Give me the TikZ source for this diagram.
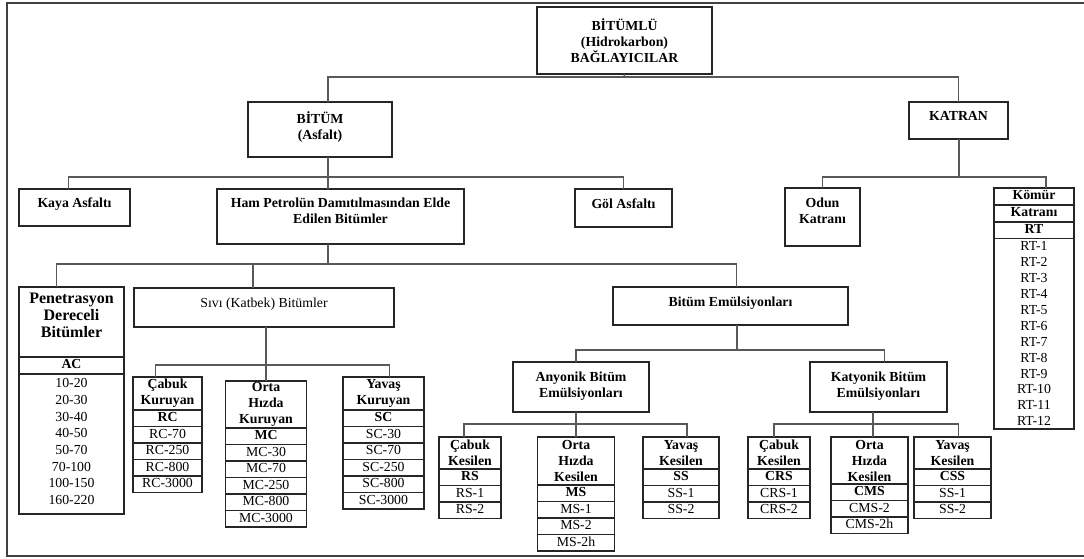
\documentclass[tikz,border=0pt]{standalone}
\usepackage{fontspec}
\setmainfont{Liberation Serif}
\usepackage{tikz}
\usetikzlibrary{positioning}

\newcommand{\txt}{\fontsize{13.8}{16}\selectfont}
\newcommand{\btxt}{\fontsize{13.8}{16}\selectfont\bfseries}

% grade table: name, top point, width, header height, header, code, grades
\newcommand{\gradetable}[7]{%
  \node[head, minimum width=#3, minimum height=#4] (#1) at #2 {#5};
  \node[row, font=\btxt, minimum width=#3, below=0pt of #1] (#1-0) {#6};
  \foreach \g [count=\i, remember=\i as \j (initially 0)] in {#7}
    \node[row, minimum width=#3, below=0pt of #1-\j] (#1-\i) {\g};
}

\begin{document}
\begin{tikzpicture}[x=1pt, y=-1pt,
    box/.style={draw=black!85, line width=1.1pt, inner sep=2pt, outer sep=0pt, align=center, font=\btxt},
    single/.style={box, text height=9pt, text depth=9pt},
    head/.style={box, anchor=north, inner ysep=0.5pt},
    row/.style={draw=black!85, line width=1.1pt, inner sep=0pt, outer sep=0pt, anchor=north,
      minimum height=16.5pt, text height=9.5pt, text depth=3pt, font=\txt},
    link/.style={draw=black!65, line width=1.4pt},
    frame/.style={draw=black!75, line width=1.6pt}]
    \useasboundingbox (0,0) rectangle (1084,559);
    \draw[frame] (1084,3) -- (7,3) -- (7,556) -- (1084,556);

    % Upper levels
    \node[box, minimum width=175pt, minimum height=67pt] (top) at (624.5,40.5) {BİTÜMLÜ\\(Hidrokarbon)\\BAĞLAYICILAR};
    \node[box, minimum width=144pt, minimum height=55pt, text depth=8pt] (bitum) at (320,129.5) {BİTÜM\\(Asfalt)};
    \node[single, minimum width=99pt, minimum height=37pt] (katran) at (958.5,120.5) {KATRAN};

    \node[single, minimum width=111pt, minimum height=37pt] (kaya) at (74.5,207.5) {Kaya Asfaltı};
    \node[box, minimum width=247pt, minimum height=55pt, text depth=12pt] (ham) at (340.5,216.5) {Ham Petrolün Damıtılmasından Elde\\Edilen Bitümler};
    \node[single, minimum width=97pt, minimum height=38pt] (gol) at (623.5,208) {Göl Asfaltı};
    \node[box, minimum width=75pt, minimum height=58pt, text depth=12pt] (odun) at (822.5,217) {Odun\\Katranı};

    \node[single, font=\txt, minimum width=260pt, minimum height=39pt] (sivi) at (264,307.5) {Sıvı (Katbek) Bitümler};
    \node[single, minimum width=235pt, minimum height=38pt] (emul) at (730.5,306) {Bitüm Emülsiyonları};
    \node[box, minimum width=136pt, minimum height=50pt, text depth=4pt] (anyonik) at (581,387) {Anyonik Bitüm\\Emülsiyonları};
    \node[box, minimum width=137pt, minimum height=50pt, text depth=4pt] (katyonik) at (878.5,387) {Katyonik Bitüm\\Emülsiyonları};

    % Penetrasyon
    \node[head, font=\fontsize{16}{17}\selectfont\bfseries, minimum width=105pt, minimum height=70pt, text depth=14pt] (pen) at (71.5,287) {Penetrasyon\\Dereceli\\Bitümler};
    \node[row, font=\btxt, minimum width=105pt, minimum height=17pt, below=0pt of pen] (pen-0) {AC};
    \node[box, font=\fontsize{13.8}{16.7}\selectfont, minimum width=105pt, minimum height=140pt, text depth=5pt, below=0pt of pen-0] (pen-1)
      {10-20\\20-30\\30-40\\40-50\\50-70\\70-100\\100-150\\160-220};

    % Cutbacks
    \gradetable{rc}{(167.5,377)}{69pt}{33pt}{Çabuk\\Kuruyan}{RC}{RC-70,RC-250,RC-800,RC-3000}
    \gradetable{mc}{(266,381)}{81pt}{47pt}{Orta\\Hızda\\Kuruyan}{MC}{MC-30,MC-70,MC-250,MC-800,MC-3000}
    \gradetable{sc}{(383.5,377)}{81pt}{33pt}{Yavaş\\Kuruyan}{SC}{SC-30,SC-70,SC-250,SC-800,SC-3000}

    % Emulsions
    \gradetable{rs}{(470,437)}{62pt}{32pt}{Çabuk\\Kesilen}{RS}{RS-1,RS-2}
    \gradetable{ms}{(576,437)}{77pt}{48pt}{Orta\\Hızda\\Kesilen}{MS}{MS-1,MS-2,MS-2h}
    \gradetable{ss}{(681,437)}{76pt}{32pt}{Yavaş\\Kesilen}{SS}{SS-1,SS-2}
    \gradetable{crs}{(779,437)}{62pt}{32pt}{Çabuk\\Kesilen}{CRS}{CRS-1,CRS-2}
    \gradetable{cms}{(869.5,437)}{77pt}{47pt}{Orta\\Hızda\\Kesilen}{CMS}{CMS-2,CMS-2h}
    \gradetable{css}{(952.5,437)}{77pt}{32pt}{Yavaş\\Kesilen}{CSS}{SS-1,SS-2}

    % Coal tar
    \node[row, font=\btxt, minimum width=80pt, minimum height=17pt] (komur) at (1034,188) {Kömür};
    \node[row, font=\btxt, minimum width=80pt, minimum height=17pt, below=0pt of komur] (komur-0) {Katranı};
    \node[row, font=\btxt, minimum width=80pt, minimum height=16.5pt, below=0pt of komur-0] (komur-1) {RT};
    \node[box, font=\fontsize{13.8}{15.9}\selectfont, minimum width=80pt, minimum height=190.5pt, below=0pt of komur-1] (komur-2)
      {RT-1\\RT-2\\RT-3\\RT-4\\RT-5\\RT-6\\RT-7\\RT-8\\RT-9\\RT-10\\RT-11\\RT-12};

    % Connections
    \coordinate (j0) at (624,77);
    \coordinate (j1) at (328,177);
    \coordinate (j2) at (328,264);
    \coordinate (j3) at (266,365);
    \coordinate (j4) at (737,350);
    \coordinate (j5) at (576,424);
    \coordinate (j6) at (873,424);
    \coordinate (j7) at (959,177);

    \draw[link] (top.south) -- (j0);
    \draw[link] ([xshift=8pt]bitum.north) |- (j0) -| (katran.north);
    \draw[link] ([xshift=8pt]bitum.south) -- (j1);
    \draw[link] ([xshift=-6pt]kaya.north) |- (j1) -| (gol.north);
    \draw[link] (j1) -- (j1 |- ham.north);
    \draw[link] (j1 |- ham.south) -- (j2);
    \draw[link] ([xshift=-15pt]pen.north) |- (j2) -| ([xshift=6pt]emul.north);
    \draw[link] ([xshift=-11pt]sivi.north) |- (j2);
    \draw[link] (j3 |- sivi.south) -- (j3) -- (mc.north);
    \draw[link] ([xshift=-12pt]rc.north) |- (j3) -| ([xshift=6pt]sc.north);
    \draw[link] (j4 |- emul.south) -- (j4);
    \draw[link] ([xshift=-5pt]anyonik.north) |- (j4) -| ([xshift=6pt]katyonik.north);
    \draw[link] (j5 |- anyonik.south) -- (j5) -- (ms.north);
    \draw[link] ([xshift=-6pt]rs.north) |- (j5) -| ([xshift=6pt]ss.north);
    \draw[link] (j6 |- katyonik.south) -- (j6) -- (j6 |- cms.north);
    \draw[link] ([xshift=-5pt]crs.north) |- (j6) -| ([xshift=6pt]css.north);
    \draw[link] (j7 |- katran.south) -- (j7);
    \draw[link] (odun.north) |- (j7) -| ([xshift=12pt]komur.north);
\end{tikzpicture}
\end{document}
